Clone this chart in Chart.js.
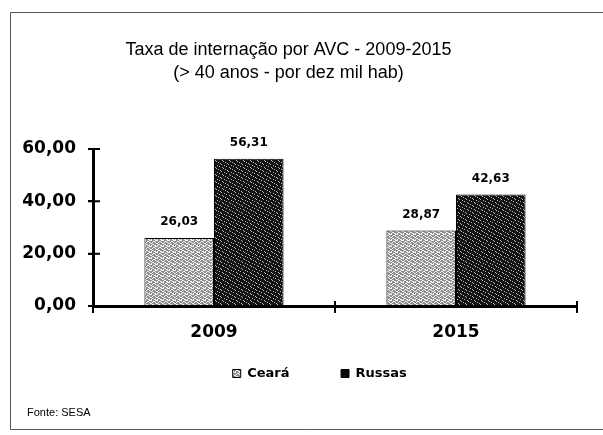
<!DOCTYPE html>
<html>
<head>
<meta charset="utf-8">
<script src="https://cdn.jsdelivr.net/npm/chart.js@4.4.1/dist/chart.umd.min.js"></script>
<style>
  html, body { margin: 0; padding: 0; background: #fff; }
  #wrap { position: relative; width: 603px; height: 435px; }
</style>
</head>
<body>
<div id="wrap"><canvas id="c" width="603" height="435"></canvas></div>
<script>
const titleLines = ['Taxa de internação por AVC - 2009-2015', '(> 40 anos - por dez mil hab)'];
const categories = ['2009', '2015'];
const seriesNames = ['Ceará', 'Russas'];
const cearaValues = [26.03, 28.87];
const russasValues = [56.31, 42.63];
const yTicks = [0, 20, 40, 60];
const sourceNote = 'Fonte: SESA';

function fmt(v) { return v.toFixed(2).replace('.', ','); }

function makePattern(base, dots, dotColor, size) {
  const c = document.createElement('canvas');
  c.width = size; c.height = size;
  const x = c.getContext('2d');
  x.fillStyle = base; x.fillRect(0, 0, size, size);
  x.fillStyle = dotColor;
  dots.forEach(([a, b]) => x.fillRect(a, b, 1, 1));
  return x.createPattern(c, 'repeat');
}
const cearaFill = makePattern('#8f8f8f',
  [[0,0],[1,0],[3,1],[4,1],[2,2],[5,2],[0,3],[1,3],[3,4],[4,5],[5,5],[1,5],[2,4],[5,0]], '#f4f4f4', 6);
const russasFill = makePattern('#121212',
  [[1,1],[4,3],[2,5],[6,0],[5,6],[0,4],[3,2]], '#b8b8b8', 7);
const legendFills = [cearaFill, '#0a0a0a'];

const legendGap = '\u2003\u2003 ';

const framePlugin = {
  id: 'frame',
  beforeDraw(chart) {
    const ctx = chart.ctx;
    ctx.save();
    ctx.strokeStyle = '#555';
    ctx.lineWidth = 1;
    ctx.beginPath();
    ctx.moveTo(603, 12.5); ctx.lineTo(10.5, 12.5); ctx.lineTo(10.5, 429.5); ctx.lineTo(603, 429.5);
    ctx.stroke();
    ctx.fillStyle = '#000';
    ctx.font = '11px "Liberation Sans Narrow", "Liberation Sans", Arial, sans-serif';
    ctx.textBaseline = 'middle';
    ctx.textAlign = 'left';
    ctx.fillText(sourceNote, 27, 413);
    ctx.restore();
  },
  afterDraw(chart) {
    const ctx = chart.ctx;
    const y = chart.scales.y, x = chart.scales.x;
    const ax = chart.chartArea.left;
    const ay = chart.chartArea.bottom;
    ctx.save();
    ctx.strokeStyle = '#000';
    ctx.lineWidth = 2;
    ctx.beginPath();
    y.ticks.forEach(t => {
      const py = y.getPixelForValue(t.value);
      ctx.moveTo(ax - 5, py); ctx.lineTo(ax + 7, py);
    });
    const half = (x.getPixelForValue(1) - x.getPixelForValue(0)) / 2;
    categories.forEach((c, i) => {
      const px = x.getPixelForValue(i) + half;
      ctx.moveTo(px, ay - 5); ctx.lineTo(px, ay + 7);
    });
    ctx.stroke();
    ctx.restore();
  },
  afterDatasetsDraw(chart) {
    const ctx = chart.ctx;
    ctx.save();
    ctx.fillStyle = '#000';
    ctx.font = 'bold 12px "DejaVu Sans", sans-serif';
    ctx.textAlign = 'center';
    ctx.textBaseline = 'middle';
    chart.data.datasets.forEach((ds, di) => {
      chart.getDatasetMeta(di).data.forEach((bar, i) => {
        ctx.fillText(fmt(ds.data[i]), bar.x, bar.y - 16);
      });
    });
    ctx.restore();
  }
};

new Chart(document.getElementById('c'), {
  type: 'bar',
  data: {
    labels: categories,
    datasets: [
      { label: seriesNames[0], data: cearaValues, backgroundColor: cearaFill, borderColor: '#000', borderWidth: 1 },
      { label: seriesNames[1], data: russasValues, backgroundColor: russasFill, borderColor: '#000', borderWidth: 1 }
    ]
  },
  options: {
    responsive: false,
    animation: false,
    devicePixelRatio: 1,
    layout: { padding: { left: 0, right: 26, top: 0, bottom: 45 } },
    datasets: { bar: { categoryPercentage: 0.575, barPercentage: 1.0 } },
    plugins: {
      tooltip: { enabled: false },
      title: {
        display: true,
        text: titleLines,
        color: '#000',
        font: { family: '"Liberation Sans", Arial, sans-serif', size: 18, weight: 'normal', lineHeight: 1.25 },
        padding: { top: 39, bottom: 65 }
      },
      legend: {
        position: 'bottom',
        fullSize: false,
        labels: {
          color: '#000',
          boxWidth: 8,
          boxHeight: 8,
          padding: 21,
          font: { family: '"DejaVu Sans", sans-serif', size: 13, weight: 'bold' },
          generateLabels(chart) {
            const items = Chart.defaults.plugins.legend.labels.generateLabels(chart);
            items.forEach((it, i) => {
              it.text = it.text + legendGap;
              it.fillStyle = legendFills[i];
            });
            return items;
          }
        }
      }
    },
    scales: {
      x: {
        grid: { display: true, drawOnChartArea: false, offset: true, tickLength: 7, color: '#000', lineWidth: 2 },
        border: { display: true, color: '#000', width: 3 },
        ticks: { color: '#000', padding: 9, font: { family: '"DejaVu Sans", sans-serif', size: 17, weight: 'bold' } },
        afterFit(scale) { scale.height = 40; }
      },
      y: {
        min: 0, max: 60,
        afterBuildTicks(scale) { scale.ticks = yTicks.map(v => ({ value: v })); },
        grid: { display: true, drawOnChartArea: false, tickLength: 5, color: '#000', lineWidth: 2 },
        border: { display: true, color: '#000', width: 3 },
        ticks: { color: '#000', padding: 12, callback: v => fmt(v), font: { family: '"DejaVu Sans", sans-serif', size: 17, weight: 'bold' } },
        afterFit(scale) { scale.width = 93; }
      }
    }
  },
  plugins: [framePlugin]
});
</script>
</body>
</html>
